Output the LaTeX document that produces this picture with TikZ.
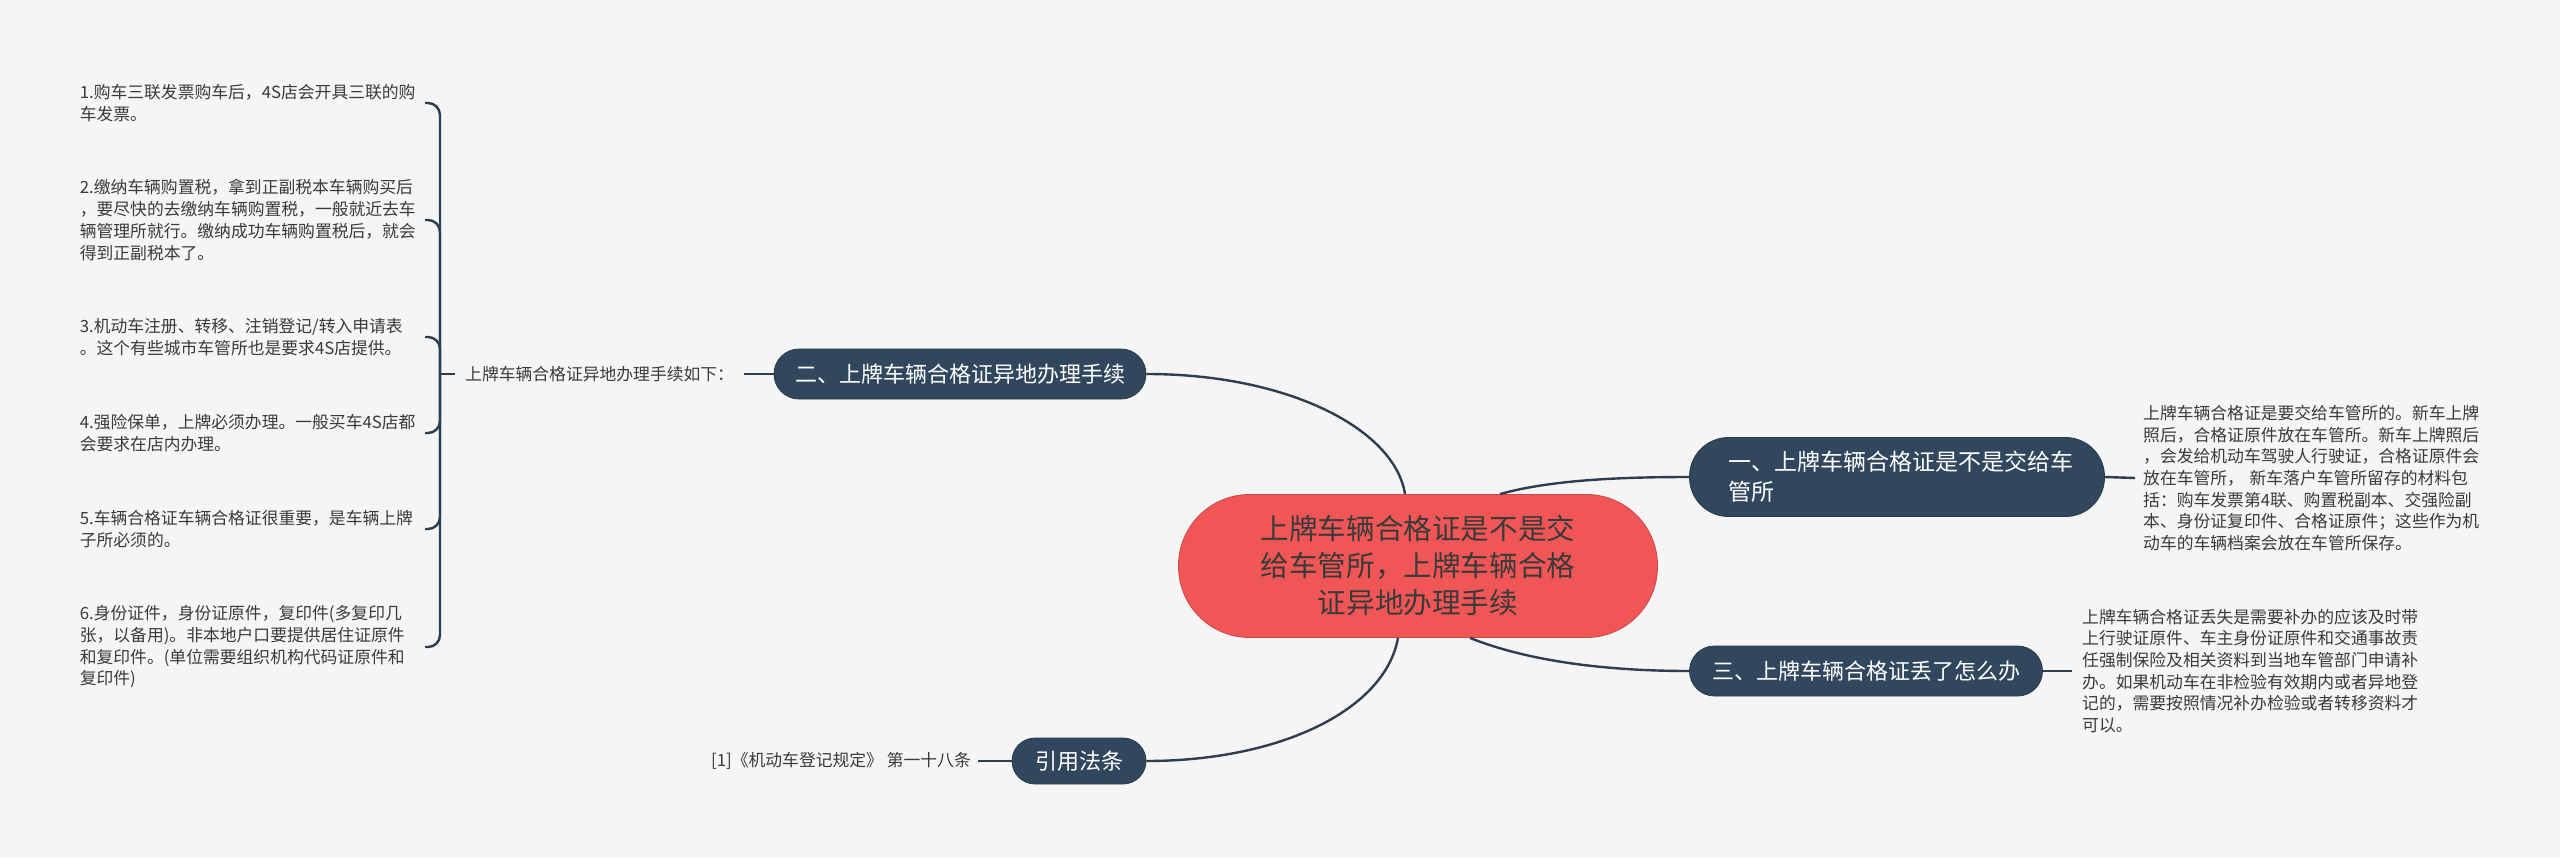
\documentclass[tikz,border=0pt]{standalone}
\usepackage{fontspec}
\setmainfont{Noto Sans CJK SC}
\definecolor{bgc}{HTML}{F5F5F5}
\definecolor{navy}{HTML}{31475E}
\definecolor{lnc}{HTML}{2C3E50}
\definecolor{redc}{HTML}{F05656}
\definecolor{txt}{HTML}{3A3A3A}
\begin{document}
\begin{tikzpicture}[x=1pt,y=-1pt,
  conn/.style={draw=lnc, line width=2.4pt},
  branch/.style={fill=navy, draw=navy!80!black, line width=0.8pt, text=white, inner sep=0pt, font=\fontsize{22}{28}\selectfont},
  small/.style={text=txt, inner ysep=0pt, align=left, font=\fontsize{16.8}{21.7}\selectfont},
]
\fill[bgc] (0,0) rectangle (2560,857);
\useasboundingbox (0,0) rectangle (2560,857);

% central
\node[fill=redc, draw=redc!85!black, line width=0.8pt, rounded corners=71pt, minimum width=479pt, minimum height=143pt, text=txt, align=center, font=\fontsize{28.6}{37}\selectfont, inner sep=0pt] (c) at (1418,566) {上牌车辆合格证是不是交\\给车管所，上牌车辆合格\\证异地办理手续};

% branches
\node[branch, minimum width=415pt, minimum height=79pt, rounded corners=39pt, align=left, text width=338pt, font=\fontsize{23}{30}\selectfont] (b1) at (1897,477) {一、上牌车辆合格证是不是交给车\\管所};
\node[branch, minimum width=372pt, minimum height=50pt, rounded corners=25pt] (b2) at (960,374) {二、上牌车辆合格证异地办理手续};
\node[branch, minimum width=353pt, minimum height=50pt, rounded corners=25pt] (b3) at (1866,671) {三、上牌车辆合格证丢了怎么办};
\node[branch, minimum width=134pt, minimum height=46pt, rounded corners=23pt] (b4) at (1079,761) {引用法条};

% right texts
\node[small, anchor=west, inner xsep=8pt, text width=355pt] (t1) at (2135,478) {上牌车辆合格证是要交给车管所的。新车上牌\\照后，合格证原件放在车管所。新车上牌照后\\，会发给机动车驾驶人行驶证，合格证原件会\\放在车管所， 新车落户车管所留存的材料包\\括：购车发票第4联、购置税副本、交强险副\\本、身份证复印件、合格证原件；这些作为机\\动车的车辆档案会放在车管所保存。};
\node[small, anchor=west, inner xsep=10pt, text width=355pt] (t3) at (2072,671) {上牌车辆合格证丢失是需要补办的应该及时带\\上行驶证原件、车主身份证原件和交通事故责\\任强制保险及相关资料到当地车管部门申请补\\办。如果机动车在非检验有效期内或者异地登\\记的，需要按照情况补办检验或者转移资料才\\可以。};

% left label and ref
\node[small, anchor=west, inner xsep=10pt] (lbl) at (455,374) {上牌车辆合格证异地办理手续如下：};
\node[small, anchor=east, inner xsep=7pt] (ref) at (978,761) {[1]《机动车登记规定》 第一十八条};

% items
\node[small, anchor=east, text width=345pt, inner xsep=0pt] (i1) at (425,103) {1.购车三联发票购车后，4S店会开具三联的购\\车发票。};
\node[small, anchor=east, text width=345pt, inner xsep=0pt] (i2) at (425,220) {2.缴纳车辆购置税，拿到正副税本车辆购买后\\，要尽快的去缴纳车辆购置税，一般就近去车\\辆管理所就行。缴纳成功车辆购置税后，就会\\得到正副税本了。};
\node[small, anchor=east, text width=345pt, inner xsep=0pt] (i3) at (425,337) {3.机动车注册、转移、注销登记/转入申请表\\。这个有些城市车管所也是要求4S店提供。};
\node[small, anchor=east, text width=345pt, inner xsep=0pt] (i4) at (425,433) {4.强险保单，上牌必须办理。一般买车4S店都\\会要求在店内办理。};
\node[small, anchor=east, text width=345pt, inner xsep=0pt] (i5) at (425,529) {5.车辆合格证车辆合格证很重要，是车辆上牌\\子所必须的。};
\node[small, anchor=east, text width=345pt, inner xsep=0pt] (i6) at (425,647) {6.身份证件，身份证原件，复印件(多复印几\\张，以备用)。非本地户口要提供居住证原件\\和复印件。(单位需要组织机构代码证原件和\\复印件)};

% straight connectors
\draw[conn] (b2.west) -- (lbl.east);
\draw[conn] (b4.west) -- (ref.east);
\draw[conn] (b1.east) -- (t1.west);
\draw[conn] (b3.east) -- (t3.west);
\coordinate (br) at (440,374);
\draw[conn] (br) -- (lbl.west);
\foreach \i in {1,...,6} \draw[conn, rounded corners=12pt] (br) |- (i\i.east);

% curved connectors from central
\draw[conn] ([xshift=-13pt]c.north) .. controls (1395,430) and (1290,374) .. (b2.east);
\draw[conn] ([xshift=82pt]c.north) .. controls (1550,480) and (1620,477) .. (b1.west);
\draw[conn] ([xshift=52pt]c.south) .. controls (1530,662) and (1610,671) .. (b3.west);
\draw[conn] ([xshift=-20pt]c.south) .. controls (1385,710) and (1280,761) .. (b4.east);
\end{tikzpicture}
\end{document}
